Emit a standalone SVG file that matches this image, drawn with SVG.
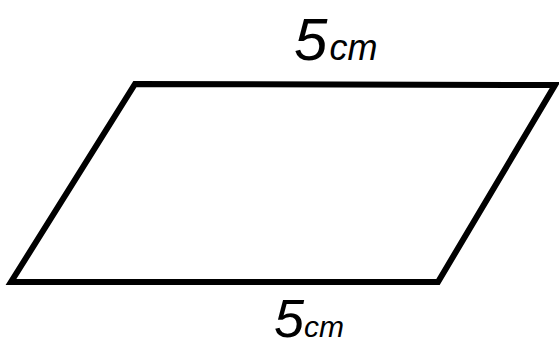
<svg xmlns="http://www.w3.org/2000/svg" width="559" height="351" viewBox="0 0 559 351">
<style>
.shape{fill:none;stroke:#000;stroke-width:6;stroke-linejoin:miter}
.lbl{font-family:"Liberation Sans",Arial,sans-serif;font-style:italic;fill:#000}
</style>
<rect width="559" height="351" fill="#fff"/>
<g id="parallelogram">
<polygon class="shape" points="135,84 555,85 438,282 11,282"/>
</g>
<g id="label-top">
<text class="lbl" x="294" y="60"><tspan font-size="60">5</tspan><tspan font-size="36" dx="2">cm</tspan></text>
</g>
<g id="label-bottom">
<text class="lbl" x="274" y="337"><tspan font-size="54">5</tspan><tspan font-size="30">cm</tspan></text>
</g>
</svg>
